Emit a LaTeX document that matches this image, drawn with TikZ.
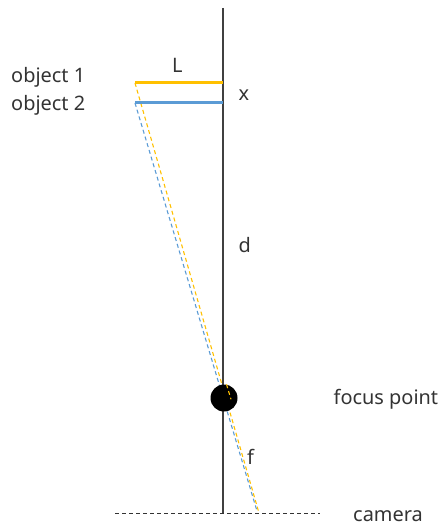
\documentclass[tikz,border=0pt]{standalone}
\usepackage{fontspec}
\setmainfont{Noto Sans}
\definecolor{oyellow}{HTML}{FFC000}
\definecolor{oblue}{HTML}{5B9BD5}
\definecolor{axisgray}{HTML}{404040}
\definecolor{txtgray}{HTML}{333333}
\begin{document}
\begin{tikzpicture}[x=1bp,y=-1bp,
  lbl/.style={font=\fontsize{20}{24}\selectfont, text=txtgray, inner sep=0pt},
  axisline/.style={axisgray, line width=1.3bp},
  objline/.style={line width=3bp},
  rayline/.style={dashed, line width=1.1bp, dash pattern=on 4bp off 3bp}]
\useasboundingbox (0,0) rectangle (442,526);
% coordinates
\coordinate (top) at (223,8);
\coordinate (bot) at (223,513);
\coordinate (o1l) at (135,83);
\coordinate (o1r) at (223,83);
\coordinate (o2l) at (135,103);
\coordinate (o2r) at (223,103);
\coordinate (yend) at (259,513);
\coordinate (bend) at (257,511);
\coordinate (camL) at (115,513);
\coordinate (camR) at (320,513);
% rays
\draw[rayline, oblue] (o2l) -- (bend);
\draw[rayline, oyellow] (o1l) -- (yend);
% axis
\draw[axisline] (top) -- (bot);
\draw[dashed, line width=1bp, dash pattern=on 4bp off 3bp, black!80] (camL) -- (camR);
% objects
\draw[objline, oyellow] (o1l) -- (o1r);
\draw[objline, oblue] (o2l) -- (o2r);
% focus point
\node[circle, fill=black, minimum size=27bp, inner sep=0pt] (fp) at (224,398) {};
\draw[rayline, oyellow] (fp.north) ++(2.5,0) -- ++(4.5,15);
% labels
\node[lbl, anchor=base west] (t1) at (11,82.5) {object 1};
\node[lbl, anchor=base west] (t2) at (11,111) {object 2};
\node[lbl, anchor=base west] (tL) at (172,72.5) {L};
\node[lbl, anchor=base west] (tx) at (238.5,101) {x};
\node[lbl, anchor=base west] (td) at (238.5,252) {d};
\node[lbl, anchor=base west] (tfp) at (333.5,404) {focus point};
\node[lbl, anchor=base west] (tf) at (247,464) {f};
\node[lbl, anchor=base west] (tcam) at (353,521.5) {camera};
\end{tikzpicture}
\end{document}
